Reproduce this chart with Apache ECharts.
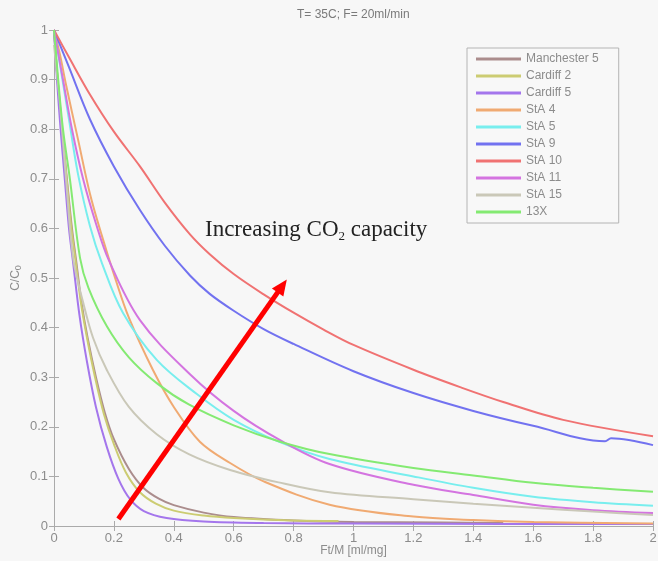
<!DOCTYPE html>
<html>
<head>
<meta charset="utf-8">
<script src="https://cdn.jsdelivr.net/npm/echarts@6/dist/echarts.min.js"></script>
<style>
html, body { margin: 0; padding: 0; background: #f7f7f7; }
#chart { width: 658px; height: 561px; }
</style>
</head>
<body>
<div id="chart"></div>
<script>
// series names + colours (legend order)
var seriesNames = ['Manchester 5', 'Cardiff 2', 'Cardiff 5', 'StA 4', 'StA 5', 'StA 9', 'StA 10', 'StA 11', 'StA 15', '13X']
var seriesColors = ['#ab8d8d', '#cccc72', '#a476ec', '#f0aa72', '#78eeee', '#7272f0', '#f07272', '#d474e0', '#cac8b8', '#84ea72']

// [Ft/M, C/C0]
var manchester5 = [[0,1],[0.012,0.9],[0.027,0.8],[0.043,0.7],[0.06,0.6],[0.075,0.53],[0.092,0.45],[0.112,0.38],[0.14,0.3],[0.17,0.228],[0.2,0.175],[0.25,0.115],[0.3,0.076],[0.35,0.055],[0.4,0.042],[0.5,0.027],[0.6,0.018],[0.8,0.011],[1.0,0.008],[1.3,0.007],[1.5,0.006]]
var cardiff2 = [[0,1],[0.012,0.9],[0.027,0.8],[0.042,0.7],[0.058,0.6],[0.073,0.53],[0.09,0.45],[0.11,0.38],[0.137,0.3],[0.167,0.225],[0.2,0.165],[0.24,0.108],[0.287,0.068],[0.34,0.045],[0.4,0.031],[0.5,0.021],[0.6,0.016],[0.8,0.011],[0.95,0.01]]
var cardiff5 = [[0,1],[0.01,0.9],[0.022,0.8],[0.036,0.7],[0.05,0.6],[0.064,0.53],[0.085,0.425],[0.109,0.335],[0.14,0.24],[0.176,0.16],[0.215,0.095],[0.254,0.054],[0.3,0.03],[0.376,0.016],[0.5,0.009],[0.7,0.006],[1.0,0.005],[1.5,0.004],[2.0,0.004]]
var sta4 = [[0,1],[0.02,0.95],[0.04,0.89],[0.08,0.78],[0.12,0.67],[0.16,0.585],[0.204,0.5],[0.25,0.42],[0.33,0.315],[0.4,0.24],[0.487,0.17],[0.588,0.127],[0.7,0.09],[0.92,0.043],[1.2,0.019],[1.4,0.012],[1.6,0.008],[2.0,0.005]]
var sta5 = [[0,1],[0.02,0.93],[0.05,0.82],[0.08,0.71],[0.12,0.605],[0.16,0.53],[0.23,0.43],[0.343,0.335],[0.477,0.266],[0.6,0.214],[0.75,0.17],[0.92,0.135],[1.2,0.1],[1.4,0.077],[1.6,0.059],[1.8,0.048],[2.0,0.041]]
var sta9 = [[0,1],[0.05,0.925],[0.12,0.82],[0.2,0.725],[0.287,0.637],[0.37,0.565],[0.454,0.505],[0.52,0.468],[0.6,0.434],[0.7,0.397],[0.8,0.367],[1.0,0.312],[1.2,0.268],[1.4,0.232],[1.6,0.202],[1.84,0.171],[1.86,0.177],[2.0,0.163]]
var sta10 = [[0,1],[0.05,0.945],[0.12,0.87],[0.2,0.795],[0.287,0.725],[0.37,0.652],[0.454,0.588],[0.52,0.548],[0.6,0.508],[0.7,0.467],[0.8,0.43],[0.9,0.396],[1.0,0.365],[1.2,0.315],[1.356,0.28],[1.5,0.25],[1.7,0.214],[2.0,0.181]]
var sta11 = [[0,1],[0.03,0.9],[0.06,0.8],[0.097,0.7],[0.14,0.61],[0.183,0.536],[0.287,0.415],[0.454,0.306],[0.6,0.232],[0.755,0.173],[0.92,0.125],[1.2,0.083],[1.4,0.0625],[1.6,0.043],[1.8,0.032],[2.0,0.026]]
var sta15 = [[0,0.97],[0.02,0.85],[0.04,0.7],[0.065,0.536],[0.098,0.449],[0.13,0.38],[0.176,0.315],[0.25,0.24],[0.343,0.185],[0.45,0.145],[0.588,0.113],[0.75,0.088],[0.92,0.068],[1.2,0.054],[1.4,0.045],[1.6,0.037],[1.8,0.029],[2.0,0.022]]
var x13 = [[0,1],[0.014,0.9],[0.03,0.8],[0.053,0.7],[0.087,0.54],[0.115,0.48],[0.177,0.402],[0.25,0.34],[0.343,0.288],[0.45,0.245],[0.6,0.203],[0.755,0.17],[0.92,0.145],[1.2,0.117],[1.4,0.102],[1.6,0.087],[1.8,0.077],[2.0,0.069]]

var seriesData = [manchester5, cardiff2, cardiff5, sta4, sta5, sta9, sta10, sta11, sta15, x13]

// arrow, in data coordinates
var arrowStart = [0.215, 0.014]
var arrowEnd = [0.762, 0.484]

var chart = echarts.init(document.getElementById('chart'))

var axisColor = '#aaaaaa'
var labelColor = '#8c8c8c'

var series = seriesNames.map(function (name, i) {
  return {
    name: name,
    type: 'line',
    data: seriesData[i],
    showSymbol: false,
    smooth: 0.35,
    lineStyle: { width: 2, color: seriesColors[i] },
    itemStyle: { color: seriesColors[i] },
    animation: false
  }
})

series.push({
  type: 'line',
  data: [],
  animation: false,
  markLine: {
    silent: true,
    animation: false,
    symbol: ['none', 'triangle'],
    symbolSize: [14, 16],
    label: { show: false },
    lineStyle: { color: '#ff0000', width: 5, type: 'solid' },
    data: [[{ coord: arrowStart }, { coord: arrowEnd }]]
  }
})

chart.setOption({
  backgroundColor: '#f7f7f7',
  title: {
    text: 'T= 35C; F= 20ml/min',
    left: 297,
    top: 9,
    padding: 0,
    textStyle: { fontSize: 12, fontWeight: 'normal', color: '#7a7a7a', fontFamily: 'Liberation Sans' }
  },
  legend: {
    data: seriesNames,
    orient: 'vertical',
    left: 467,
    top: 48,
    padding: [4, 20, 4, 9],
    itemGap: 3,
    itemWidth: 45,
    itemHeight: 3,
    icon: 'rect',
    borderColor: '#b4b4b4',
    borderWidth: 1,
    backgroundColor: '#f8f8f8',
    textStyle: { fontSize: 12, color: '#8c8c8c', lineHeight: 14, fontFamily: 'Liberation Sans' }
  },
  grid: { left: 54, right: 5, top: 30, bottom: 35, containLabel: false, outerBoundsMode: 'none' },
  xAxis: [{
    type: 'value',
    min: 0,
    max: 2,
    interval: 0.2,
    name: 'Ft/M [ml/mg]',
    nameLocation: 'middle',
    nameGap: 19,
    nameMoveOverlap: false,
    nameTextStyle: { fontSize: 12, color: '#8c8c8c', fontFamily: 'Liberation Sans' },
    axisLine: { lineStyle: { color: axisColor } },
    axisTick: { inside: true, length: 5, lineStyle: { color: axisColor } },
    axisLabel: { color: labelColor, fontSize: 13, margin: 6, fontFamily: 'Liberation Sans' },
    splitLine: { show: false }
  }, {
    type: 'value',
    position: 'top',
    min: 0,
    max: 2,
    interval: 0.2,
    axisLine: { show: true, lineStyle: { color: axisColor } },
    axisTick: { show: true, inside: true, length: 5, lineStyle: { color: axisColor } },
    axisLabel: { show: false },
    splitLine: { show: false }
  }],
  yAxis: [{
    type: 'value',
    min: 0,
    max: 1,
    interval: 0.1,
    name: 'C/C{s|0}',
    nameLocation: 'middle',
    nameGap: 31,
    nameMoveOverlap: false,
    nameTextStyle: {
      fontSize: 12, color: '#8c8c8c', fontFamily: 'Liberation Sans',
      rich: { s: { fontSize: 9, color: '#8c8c8c', padding: [6, 0, 0, 0], fontFamily: 'Liberation Sans' } }
    },
    axisLine: { show: true, lineStyle: { color: axisColor } },
    axisTick: { show: true, inside: true, length: 5, lineStyle: { color: axisColor } },
    axisLabel: { color: labelColor, fontSize: 13, margin: 6, fontFamily: 'Liberation Sans' },
    splitLine: { show: false }
  }, {
    type: 'value',
    position: 'right',
    min: 0,
    max: 1,
    interval: 0.1,
    axisLine: { show: true, lineStyle: { color: axisColor } },
    axisTick: { show: true, inside: true, length: 5, lineStyle: { color: axisColor } },
    axisLabel: { show: false },
    splitLine: { show: false }
  }],
  graphic: [{
    type: 'text',
    left: 205,
    top: 218,
    style: {
      text: 'Increasing CO{s|2} capacity',
      font: '23px "Liberation Serif"',
      fill: '#222222',
      rich: {
        s: { fontSize: 13, fontFamily: 'Liberation Serif', fill: '#222222', padding: [14, 0, 0, 0] }
      }
    }
  }],
  series: series
})
</script>
</body>
</html>
